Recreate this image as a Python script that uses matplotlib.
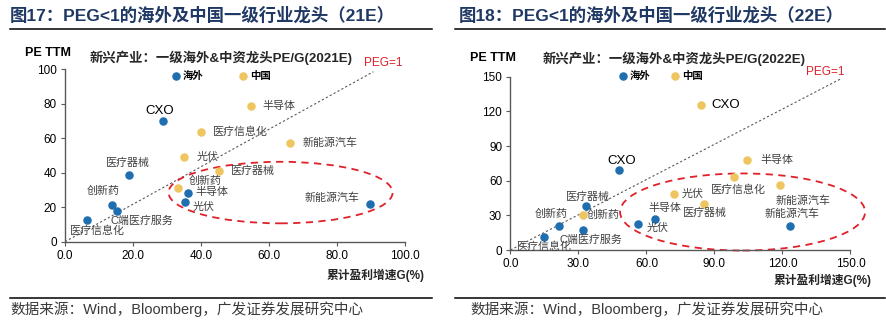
import matplotlib
matplotlib.use('Agg')
import matplotlib.pyplot as plt
from matplotlib.patches import Ellipse
from matplotlib.lines import Line2D
from matplotlib.ticker import FormatStrFormatter, MultipleLocator

plt.rcParams['font.family'] = ['Liberation Sans', 'Noto Sans CJK SC']
plt.rcParams['axes.unicode_minus'] = False

BLUE = '#1F6EB0'
GOLD = '#EEC55F'
LABEL_GREY = '#404040'
AXIS_GREY = '#595959'

# ---- data: 21E (left) ----
l_os_names = ['CXO', '医疗器械', '创新药', 'C端医疗服务', '医疗信息化', '半导体', '光伏', '新能源汽车']
l_os_g = [28.7, 18.9, 13.7, 15.2, 6.6, 36.3, 35.3, 89.7]
l_os_pe = [70.2, 38.7, 21.5, 18.0, 12.6, 28.0, 23.2, 21.9]
l_cn_names = ['半导体', '医疗信息化', '新能源汽车', '光伏', '医疗器械', '创新药']
l_cn_g = [54.6, 40.0, 66.2, 35.0, 45.3, 33.3]
l_cn_pe = [78.9, 63.6, 57.1, 49.3, 41.0, 31.1]
l_peg_x = [0, 90.7]
l_peg_y = [0, 98.6]

# ---- data: 22E (right) ----
r_os_names = ['CXO', '医疗器械', '创新药', 'C端医疗服务', '医疗信息化', '光伏', '半导体', '新能源汽车']
r_os_g = [47.9, 33.3, 21.5, 31.9, 14.9, 56.1, 63.6, 123.3]
r_os_pe = [69.3, 38.1, 20.8, 17.3, 11.5, 22.5, 26.5, 21.1]
r_cn_names = ['CXO', '半导体', '医疗信息化', '新能源汽车', '光伏', '医疗器械', '创新药']
r_cn_g = [83.9, 104.5, 98.8, 118.9, 72.2, 85.5, 31.9]
r_cn_pe = [125.5, 77.9, 63.2, 56.0, 48.5, 39.8, 30.3]
r_peg_x = [0, 145.4]
r_peg_y = [0, 147.8]

# label placement (offset pixels, ha) per point
l_os_off = [(-3, 10, 'center'), (-1, 12, 'center'), (-8, 14, 'center'), (-6, -10, 'left'),
            (10, -11, 'center'), (7, 1, 'left'), (8, -5, 'left'), (-10, 6, 'right')]
l_cn_off = [(12, 0, 'left'), (12, 0, 'left'), (12, 0, 'left'), (13, 0, 'left'),
            (12, 0, 'left'), (10, 7, 'left')]
r_os_off = [(3, 9, 'center'), (2, 9, 'center'), (-8, 12, 'center'), (-23, -10, 'left'),
            (0, -10, 'center'), (9, -4, 'left'), (10, 11, 'center'), (2, 12, 'center')]
r_cn_off = [(11, 0, 'left'), (13, 0, 'left'), (4, -13, 'center'), (23, -15, 'center'),
            (8, 0, 'left'), (1, -9, 'center'), (4, 0, 'left')]


def put_labels(ax, names, xs, ys, offs):
    for n, x, y, (dx, dy, ha) in zip(names, xs, ys, offs):
        fs = 9.5 if n == 'CXO' else 7.9
        col = 'black' if n == 'CXO' else LABEL_GREY
        ax.annotate(n, (x, y), xytext=(dx, dy), textcoords='offset pixels',
                    ha=ha, va='center', fontsize=fs, color=col, zorder=5)


def draw_panel(ax, os_data, cn_data, peg, lim, step, ell, subtitle, leg_pos, colsp, peg_lbl):
    os_names, os_g, os_pe, os_off = os_data
    cn_names, cn_g, cn_pe, cn_off = cn_data
    ax.plot(peg[0], peg[1], color=AXIS_GREY, lw=0.8, ls=(0, (2, 2)), zorder=1)
    ax.add_patch(Ellipse(ell[0], ell[1], ell[2], fill=False, ec='#E0202A', lw=1.3,
                         ls=(0, (4, 3)), clip_on=False, zorder=2))
    h1 = ax.scatter(os_g, os_pe, s=26, color=BLUE, zorder=4, clip_on=False)
    h2 = ax.scatter(cn_g, cn_pe, s=26, color=GOLD, zorder=4, clip_on=False)
    put_labels(ax, os_names, os_g, os_pe, os_off)
    put_labels(ax, cn_names, cn_g, cn_pe, cn_off)

    ax.set_xlim(0, lim)
    ax.set_ylim(0, lim)
    ax.xaxis.set_major_locator(MultipleLocator(step))
    ax.yaxis.set_major_locator(MultipleLocator(step))
    ax.xaxis.set_major_formatter(FormatStrFormatter('%.1f'))
    for s in ['top', 'right']:
        ax.spines[s].set_visible(False)
    for s in ['left', 'bottom']:
        ax.spines[s].set_color(AXIS_GREY)
        ax.spines[s].set_linewidth(1.0)
    ax.tick_params(length=3, width=0.8, color=AXIS_GREY, labelsize=8.5, pad=3)

    leg = ax.legend([h1, h2], ['海外', '中国'], loc='center left', bbox_to_anchor=leg_pos,
                    ncol=2, frameon=False, borderpad=0, borderaxespad=0, handlelength=0.8,
                    handletextpad=0.25, columnspacing=colsp, prop={'weight': 'bold', 'size': 7.5})
    for t in leg.get_texts():
        t.set_color('black')

    ax.text(peg_lbl[0], peg_lbl[1], 'PEG=1', color='#E0202A', fontsize=8.5, ha='center',
            va='center', clip_on=False)
    ax.text(subtitle[1], subtitle[2], subtitle[0], transform=ax.transAxes, ha='center',
            va='center', fontsize=9.6, fontweight='bold', color='#262626')


fig = plt.figure(figsize=(8.87, 3.28), dpi=100)
ax1 = fig.add_axes([0.0733, 0.2631, 0.3833, 0.5256])
ax2 = fig.add_axes([0.5755, 0.2378, 0.3833, 0.5284])

draw_panel(ax1, (l_os_names, l_os_g, l_os_pe, l_os_off), (l_cn_names, l_cn_g, l_cn_pe, l_cn_off),
           (l_peg_x, l_peg_y), 100, 20, ((63.4, 28.5), 65.9, 35.7),
           ('新兴产业：一级海外&中资龙头PE/G(2021E)', 0.46, 1.064), (0.314, 0.963), 3.4,
           (93.5, 103.8))
draw_panel(ax2, (r_os_names, r_os_g, r_os_pe, r_os_off), (r_cn_names, r_cn_g, r_cn_pe, r_cn_off),
           (r_peg_x, r_peg_y), 150, 30, ((102.4, 32.9), 108.1, 66.7),
           ('新兴产业：一级海外&中资龙头PE/G(2022E)', 0.481, 1.106), (0.318, 1.004), 2.0,
           (138.8, 154.4))

# y-axis titles and x-axis titles
ax1.text(-0.049, 1.095, 'PE TTM', transform=ax1.transAxes, ha='center', va='center',
         fontsize=9, fontweight='bold')
ax2.text(-0.051, 1.106, 'PE TTM', transform=ax2.transAxes, ha='center', va='center',
         fontsize=9, fontweight='bold')
ax1.text(1.059, -0.193, '累计盈利增速G(%)', transform=ax1.transAxes, ha='right', va='center',
         fontsize=8.5, fontweight='bold', color='#262626')
ax2.text(1.063, -0.173, '累计盈利增速G(%)', transform=ax2.transAxes, ha='right', va='center',
         fontsize=8.5, fontweight='bold', color='#262626')

# titles, rules, source
TITLE_C = '#1F3864'
fig.text(0.0113, 0.954, '图17：PEG<1的海外及中国一级行业龙头（21E）', fontsize=12.5,
         fontweight='bold', color=TITLE_C, va='center', ha='left')
fig.text(0.517, 0.954, '图18：PEG<1的海外及中国一级行业龙头（22E）', fontsize=12.5,
         fontweight='bold', color=TITLE_C, va='center', ha='left')
for x0, x1 in [(0.0113, 0.487), (0.513, 0.998)]:
    fig.add_artist(Line2D([x0, x1], [0.911, 0.911], color='black', lw=1.1))
    fig.add_artist(Line2D([x0, x1], [0.0915, 0.0915], color='black', lw=1.1))
fig.text(0.0113, 0.058, '数据来源：Wind，Bloomberg，广发证券发展研究中心', fontsize=10.5,
         color='#3a3a3a', va='center', ha='left')
fig.text(0.530, 0.058, '数据来源：Wind，Bloomberg，广发证券发展研究中心', fontsize=10.5,
         color='#3a3a3a', va='center', ha='left')

fig.savefig('out.png', dpi=100)
